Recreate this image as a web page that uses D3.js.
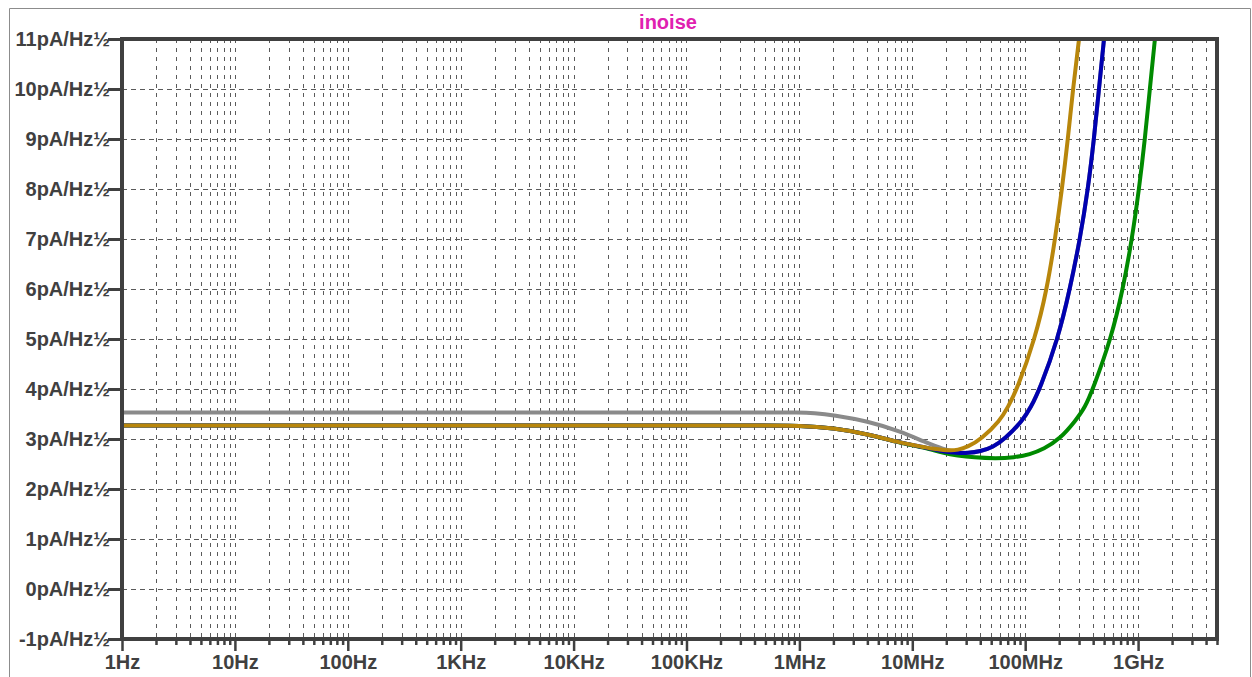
<!DOCTYPE html>
<html>
<head>
<meta charset="utf-8">
<script src="https://cdn.jsdelivr.net/npm/d3@7"></script>
<style>
  html, body { margin: 0; padding: 0; background: #ffffff; }
  svg { display: block; }
  text { font-family: "Liberation Sans", Arial, sans-serif; font-weight: bold; }
</style>
</head>
<body>
<script>
// Input current noise density traces (pA/Hz½) against frequency (Hz)
const grayFreq  = [1, 1e2, 1e4, 1e5, 5e5, 1e6, 1.34e6, 2e6, 4e6, 7.9e6, 12.6e6, 19e6, 25e6, 31e6, 40e6, 52e6, 66e6, 95e6, 112e6, 135e6, 195e6, 249e6, 306e6, 360e6, 407e6, 450e6, 499e6];
const grayVal   = [3.53, 3.53, 3.53, 3.53, 3.53, 3.53, 3.52, 3.48, 3.36, 3.15, 2.95, 2.79, 2.73, 2.72, 2.75, 2.84, 3.0, 3.37, 3.63, 4.0, 5.0, 6.0, 7.0, 8.0, 9.0, 10.0, 11.0];

const greenFreq = [1, 1e2, 1e4, 1e5, 5e5, 1e6, 2e6, 4e6, 7.9e6, 12.6e6, 19e6, 25e6, 35e6, 55e6, 80e6, 110e6, 146e6, 203e6, 280e6, 339e6, 398e6, 575e6, 735e6, 883e6, 1020e6, 1150e6, 1270e6, 1410e6];
const greenVal  = [3.27, 3.27, 3.27, 3.27, 3.27, 3.27, 3.22, 3.10, 2.92, 2.83, 2.72, 2.67, 2.63, 2.61, 2.63, 2.69, 2.80, 3.0, 3.37, 3.63, 4.0, 5.0, 6.0, 7.0, 8.0, 9.0, 10.0, 11.0];

const blueFreq  = [1, 1e2, 1e4, 1e5, 5e5, 1e6, 2e6, 4e6, 7.9e6, 12.6e6, 15.5e6, 19e6, 25e6, 31e6, 40e6, 52e6, 66e6, 95e6, 112e6, 135e6, 195e6, 249e6, 306e6, 360e6, 407e6, 450e6, 499e6];
const blueVal   = [3.27, 3.27, 3.27, 3.27, 3.27, 3.27, 3.22, 3.10, 2.92, 2.84, 2.79, 2.75, 2.72, 2.72, 2.75, 2.84, 3.0, 3.37, 3.63, 4.0, 5.0, 6.0, 7.0, 8.0, 9.0, 10.0, 11.0];

const goldFreq  = [1, 1e2, 1e4, 1e5, 5e5, 1e6, 2e6, 4e6, 7.9e6, 12.6e6, 15.5e6, 19e6, 22e6, 25e6, 31e6, 41e6, 60e6, 70e6, 85e6, 122e6, 156e6, 184e6, 212e6, 239e6, 265e6, 300e6];
const goldVal   = [3.27, 3.27, 3.27, 3.27, 3.27, 3.27, 3.22, 3.10, 2.92, 2.84, 2.80, 2.78, 2.77, 2.78, 2.84, 3.0, 3.37, 3.63, 4.0, 5.0, 6.0, 7.0, 8.0, 9.0, 10.0, 11.0];

const seriesNames  = ["gray", "green", "blue", "gold"];
const seriesColors = ["#8a8a8a", "#008a00", "#0000b0", "#b8860b"];

// Axis ticks
const yTicks = [-1, 0, 1, 2, 3, 4, 5, 6, 7, 8, 9, 10, 11];
const xMajor = [1, 10, 100, 1e3, 1e4, 1e5, 1e6, 1e7, 1e8, 1e9];
const xMajorLabels = ["1Hz", "10Hz", "100Hz", "1KHz", "10KHz", "100KHz", "1MHz", "10MHz", "100MHz", "1GHz"];
const title = "inoise";

const W = 1252, H = 677;
const plot = { left: 122, top: 39, right: 1217, bottom: 639 };

const svg = d3.select("body").append("svg").attr("width", W).attr("height", H);

// Window border
svg.append("path")
  .attr("d", `M9.5,${H} V8.5 H1250.5 V${H}`)
  .attr("fill", "none").attr("stroke", "#8c8c8c").attr("stroke-width", 1);

const x = d3.scaleLog().domain([1, 5e9]).range([plot.left, plot.right]);
const y = d3.scaleLinear().domain([-1, 11]).range([plot.bottom, plot.top]);

// Minor frequency positions: 2..9 × each decade, up to the right edge
const xMinor = [];
for (let k = 0; k <= 9; k++) {
  for (let m = 2; m <= 9; m++) {
    const f = m * Math.pow(10, k);
    if (f <= 5e9) xMinor.push(f);
  }
}

// Grid
const grid = svg.append("g").attr("stroke", "#5a5a5a").attr("stroke-width", 1).attr("fill", "none");
grid.selectAll("line.v")
  .data(xMajor.slice(1).concat(xMinor))
  .join("line")
  .attr("class", "v")
  .attr("x1", d => Math.round(x(d)) + 0.5).attr("x2", d => Math.round(x(d)) + 0.5)
  .attr("y1", plot.top).attr("y2", plot.bottom)
  .attr("stroke-dasharray", "4,5");
grid.selectAll("line.h")
  .data(yTicks.filter(v => v > -1 && v < 11))
  .join("line")
  .attr("class", "h")
  .attr("x1", plot.left).attr("x2", plot.right)
  .attr("y1", d => Math.round(y(d)) + 0.5).attr("y2", d => Math.round(y(d)) + 0.5)
  .attr("stroke-dasharray", "5,4");

// Traces
const line = d3.line()
  .x(d => x(d[0]))
  .y(d => y(d[1]))
  .curve(d3.curveBasis);

const traces = [
  d3.zip(grayFreq, grayVal),
  d3.zip(greenFreq, greenVal),
  d3.zip(blueFreq, blueVal),
  d3.zip(goldFreq, goldVal)
];

svg.append("defs").append("clipPath").attr("id", "plotClip")
  .append("rect")
  .attr("x", plot.left).attr("y", plot.top)
  .attr("width", plot.right - plot.left).attr("height", plot.bottom - plot.top);

svg.append("g").attr("clip-path", "url(#plotClip)")
  .selectAll("path")
  .data(traces)
  .join("path")
  .attr("class", (d, i) => "trace " + seriesNames[i])
  .attr("d", line)
  .attr("fill", "none")
  .attr("stroke", (d, i) => seriesColors[i])
  .attr("stroke-width", 4)
  .attr("stroke-linejoin", "round");

const axisColor = "#404040";

// X axis: minor ticks then labelled decades
const xAxisMinor = d3.axisBottom(x).tickValues(xMinor).tickSize(6).tickFormat("");
const xAxisMajor = d3.axisBottom(x).tickValues(xMajor).tickSize(12).tickPadding(6)
  .tickFormat((d, i) => xMajorLabels[i]);

const gxMinor = svg.append("g").attr("transform", `translate(0,${plot.bottom})`).call(xAxisMinor);
const gxMajor = svg.append("g").attr("transform", `translate(0,${plot.bottom})`).call(xAxisMajor);
[gxMinor, gxMajor].forEach(g => {
  g.select(".domain").remove();
  g.selectAll(".tick line").attr("stroke", axisColor).attr("stroke-width", 2.5);
});
gxMajor.selectAll(".tick text")
  .attr("fill", axisColor)
  .attr("font-size", 20)
  .attr("y", 16)
  .attr("dy", "0.71em");

// Y axis
const yAxis = d3.axisLeft(y).tickValues(yTicks).tickSize(14).tickPadding(-2)
  .tickFormat(d => d + "pA/Hz\u00BD");
const gy = svg.append("g").attr("transform", `translate(${plot.left},0)`).call(yAxis);
gy.select(".domain").remove();
gy.selectAll(".tick line").attr("stroke", axisColor).attr("stroke-width", 3);
gy.selectAll(".tick text")
  .attr("fill", axisColor)
  .attr("font-size", 20)
  .attr("dy", "0.34em");

// Plot frame
svg.append("rect")
  .attr("x", plot.left).attr("y", plot.top)
  .attr("width", plot.right - plot.left).attr("height", plot.bottom - plot.top)
  .attr("fill", "none").attr("stroke", axisColor).attr("stroke-width", 4);

// Title
svg.append("text")
  .attr("x", 668).attr("y", 29)
  .attr("text-anchor", "middle")
  .attr("font-size", 20)
  .attr("fill", "#e020b0")
  .text(title);
</script>
</body>
</html>
